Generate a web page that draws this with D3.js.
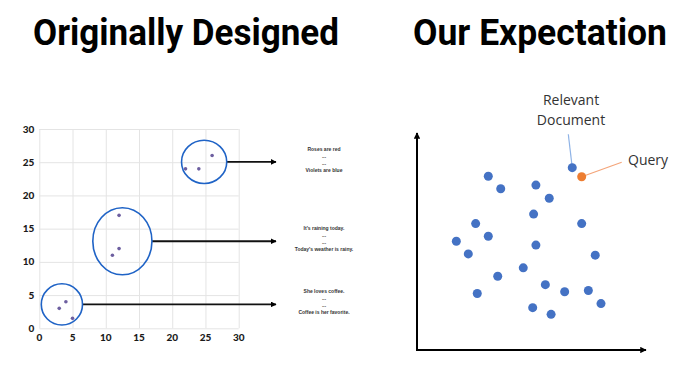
<!DOCTYPE html>
<html lang="en">
<head>
    <meta charset="UTF-8">
    <title>Originally Designed vs Our Expectation</title>
    <script src="https://d3js.org/d3.v7.min.js"></script>
    <style>
        body { margin: 0; background: white; font-family: "Open Sans", sans-serif; }
        .grid line { stroke: #e4e4e4; stroke-width: 1; }
        .grid path { display: none; }
        .tick-lbl { font-family: "Lato", "Liberation Sans", sans-serif; font-size: 10px; font-weight: 900; fill: #1a1a1a; }
        .title { font-family: "Liberation Sans Narrow", "Roboto", sans-serif; font-weight: 700; font-size: 37px; fill: #000; }
        .doc { font-family: "Liberation Sans", Arial, sans-serif; font-size: 5px; font-weight: bold; fill: #333; }
        .lbl { font-family: "Open Sans", sans-serif; font-size: 14px; fill: #333; }
    </style>
</head>
<body>
<div id="chart"></div>
<script>
    // left: original sentence embeddings
    const leftX = [3, 4, 5, 11, 12, 12, 22, 24, 26];
    const leftY = [3, 4, 1.5, 11, 12, 17, 24, 24, 26];
    const ticks = [0, 5, 10, 15, 20, 25, 30];

    // cluster ellipses (data units: centre x, centre y, radius x, radius y)
    const clusterCx = [3.4, 12.5, 24.8];
    const clusterCy = [3.6, 13.1, 25.05];
    const clusterRx = [3.1, 4.45, 3.4];
    const clusterRy = [3.1, 5.05, 3.25];
    const clusterText = [
        ["She loves coffee.", "...", "...", "Coffee is her favorite."],
        ["It's raining today.", "...", "...", "Today's weather is rainy."],
        ["Roses are red", "...", "...", "Violets are blue"]
    ];

    // right: expected embedding space (0-100 units)
    const docX = [67.5, 31.0, 36.4, 51.7, 57.5, 50.7, 25.5, 71.6, 31.0, 17.1, 51.7, 22.3, 77.5, 46.2, 35.1, 55.8, 64.2, 74.5, 26.2, 80.0, 50.3, 58.3];
    const docY = [84.8, 80.8, 75.0, 76.7, 70.6, 63.2, 58.8, 58.8, 52.9, 50.6, 48.8, 44.7, 44.1, 38.2, 34.3, 30.4, 27.1, 27.7, 26.3, 21.6, 19.7, 16.6];
    const queryX = [71.6];
    const queryY = [80.6];

    const W = 686, H = 388;
    const svg = d3.select("#chart").append("svg")
        .attr("width", W).attr("height", H);

    // titles
    svg.append("text").attr("class", "title")
        .attr("x", 186).attr("y", 45).attr("text-anchor", "middle")
        .attr("textLength", 306).attr("lengthAdjust", "spacingAndGlyphs")
        .text("Originally Designed");
    svg.append("text").attr("class", "title")
        .attr("x", 540).attr("y", 45).attr("text-anchor", "middle")
        .attr("textLength", 254).attr("lengthAdjust", "spacingAndGlyphs")
        .text("Our Expectation");

    // ---------- left chart ----------
    const x1 = d3.scaleLinear().domain([0, 30]).range([39.3, 238.7]);
    const y1 = d3.scaleLinear().domain([0, 30]).range([328.3, 129]);

    svg.append("g").attr("class", "grid")
        .attr("transform", `translate(0,${y1(0)})`)
        .call(d3.axisBottom(x1).tickValues(ticks).tickSize(-(y1(0) - y1(30))).tickFormat(""));
    svg.append("g").attr("class", "grid")
        .attr("transform", `translate(${x1(0)},0)`)
        .call(d3.axisLeft(y1).tickValues(ticks).tickSize(-(x1(30) - x1(0))).tickFormat(""));

    svg.selectAll(".xl").data(ticks).enter().append("text")
        .attr("class", "tick-lbl").attr("text-anchor", "middle")
        .attr("x", d => x1(d)).attr("y", y1(0) + 13)
        .text(d => d);
    svg.selectAll(".yl").data(ticks).enter().append("text")
        .attr("class", "tick-lbl").attr("text-anchor", "end")
        .attr("x", x1(0) - 5).attr("y", d => y1(d) + 3.5)
        .text(d => d);

    const marker = svg.append("defs").append("marker")
        .attr("id", "head").attr("viewBox", "0 0 10 10")
        .attr("refX", 9).attr("refY", 5)
        .attr("markerWidth", 3.2).attr("markerHeight", 3.2)
        .attr("orient", "auto");
    marker.append("path").attr("d", "M0,0 L10,5 L0,10 z").attr("fill", "#000");

    const clusters = d3.range(clusterCx.length);
    svg.selectAll(".link").data(clusters).enter().append("line")
        .attr("x1", i => x1(clusterCx[i] + clusterRx[i]))
        .attr("x2", 276)
        .attr("y1", i => y1(clusterCy[i])).attr("y2", i => y1(clusterCy[i]))
        .attr("stroke", "#111").attr("stroke-width", 1.8)
        .attr("marker-end", "url(#head)");

    svg.selectAll(".cluster").data(clusters).enter().append("ellipse")
        .attr("cx", i => x1(clusterCx[i])).attr("cy", i => y1(clusterCy[i]))
        .attr("rx", i => x1(clusterRx[i]) - x1(0))
        .attr("ry", i => y1(0) - y1(clusterRy[i]))
        .attr("fill", "none").attr("stroke", "#1f63c6").attr("stroke-width", 1.6);

    svg.selectAll(".pt").data(leftX).enter().append("circle")
        .attr("cx", d => x1(d)).attr("cy", (d, i) => y1(leftY[i]))
        .attr("r", 1.8).attr("fill", "#6d5fa0");

    clusters.forEach(i => {
        const cy = y1(clusterCy[i]);
        svg.append("g").selectAll("text").data(clusterText[i]).enter().append("text")
            .attr("class", "doc").attr("text-anchor", "middle")
            .attr("x", 324).attr("y", (d, j) => cy - 11 + j * 7)
            .text(d => d);
    });

    // ---------- right chart ----------
    const x2 = d3.scaleLinear().domain([0, 100]).range([417, 647]);
    const y2 = d3.scaleLinear().domain([0, 100]).range([350, 135]);

    svg.append("line")
        .attr("x1", x2(0)).attr("y1", y2(0)).attr("x2", x2(0)).attr("y2", 133)
        .attr("stroke", "#000").attr("stroke-width", 2).attr("marker-end", "url(#head)");
    svg.append("line")
        .attr("x1", x2(0) - 1).attr("y1", y2(0)).attr("x2", 646).attr("y2", y2(0))
        .attr("stroke", "#000").attr("stroke-width", 2).attr("marker-end", "url(#head)");

    // callouts
    svg.append("line")
        .attr("x1", 568.3).attr("y1", 134.3)
        .attr("x2", x2(docX[0])).attr("y2", y2(docY[0]))
        .attr("stroke", "#8fb3e6").attr("stroke-width", 1.2);
    svg.append("line")
        .attr("x1", x2(queryX[0])).attr("y1", y2(queryY[0]))
        .attr("x2", 621.7).attr("y2", 162.3)
        .attr("stroke", "#f4a57a").attr("stroke-width", 1.2);

    svg.selectAll(".doc-pt").data(docX).enter().append("circle")
        .attr("cx", d => x2(d)).attr("cy", (d, i) => y2(docY[i]))
        .attr("r", 4.5).attr("fill", "#4472c4");
    svg.selectAll(".q-pt").data(queryX).enter().append("circle")
        .attr("cx", d => x2(d)).attr("cy", (d, i) => y2(queryY[i]))
        .attr("r", 4.5).attr("fill", "#ed7d31");

    svg.append("text").attr("class", "lbl").attr("text-anchor", "middle")
        .attr("x", 571).attr("y", 105).text("Relevant");
    svg.append("text").attr("class", "lbl").attr("text-anchor", "middle")
        .attr("x", 571).attr("y", 125).text("Document");
    svg.append("text").attr("class", "lbl")
        .attr("x", 628).attr("y", 165).text("Query");
</script>
</body>
</html>
